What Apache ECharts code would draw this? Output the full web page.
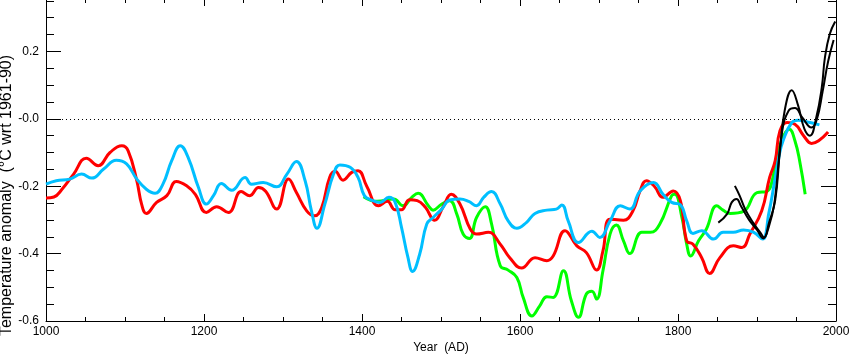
<!DOCTYPE html>
<html>
<head>
<meta charset="utf-8">
<script src="https://cdn.jsdelivr.net/npm/echarts@6/dist/echarts.min.js"></script>
<style>
  html, body { margin: 0; padding: 0; background: #fff; }
  #chart { width: 850px; height: 354px; }
</style>
</head>
<body>
<div id="chart"></div>
<script>
// [year, anomaly]
const red = [
  [1000, -0.235], [1010, -0.232], [1020, -0.21], [1035, -0.164], [1051, -0.117],
  [1066, -0.139], [1081, -0.10], [1096, -0.080], [1104, -0.095], [1115, -0.184],
  [1121, -0.253], [1127, -0.281], [1140, -0.248], [1153, -0.228], [1165, -0.186],
  [1178, -0.199], [1189, -0.224], [1203, -0.278], [1216, -0.261], [1231, -0.278],
  [1247, -0.216], [1258, -0.228], [1269, -0.204], [1278, -0.215], [1292, -0.268],
  [1307, -0.179], [1317, -0.219], [1330, -0.273], [1340, -0.288], [1349, -0.263],
  [1359, -0.174], [1366, -0.156], [1376, -0.182], [1387, -0.159], [1395, -0.154],
  [1406, -0.20], [1421, -0.258], [1432, -0.245], [1442, -0.27], [1450, -0.27],
  [1460, -0.240], [1470, -0.243], [1480, -0.262], [1492, -0.301], [1503, -0.26],
  [1513, -0.224], [1524, -0.253], [1537, -0.327], [1545, -0.342], [1560, -0.337],
  [1575, -0.372], [1587, -0.412], [1602, -0.443], [1619, -0.412], [1634, -0.421],
  [1642, -0.407], [1657, -0.332], [1672, -0.377], [1684, -0.397], [1697, -0.449],
  [1705, -0.392], [1714, -0.298], [1731, -0.301], [1743, -0.273], [1752, -0.214],
  [1760, -0.184], [1770, -0.20], [1781, -0.233], [1794, -0.214], [1803, -0.243],
  [1811, -0.362], [1819, -0.372], [1830, -0.412], [1840, -0.459], [1853, -0.412],
  [1870, -0.377], [1881, -0.382], [1891, -0.342], [1906, -0.273], [1916, -0.174],
  [1923, -0.125], [1929, -0.036], [1938, -0.011], [1948, -0.016], [1959, -0.050],
  [1969, -0.073], [1978, -0.065], [1990, -0.039]
];

const cyan = [
  [1000, -0.194], [1013, -0.184], [1030, -0.179], [1045, -0.164], [1058, -0.176],
  [1073, -0.149], [1089, -0.123], [1102, -0.134], [1115, -0.179], [1127, -0.209],
  [1138, -0.221], [1148, -0.194], [1159, -0.125], [1170, -0.080], [1180, -0.115],
  [1193, -0.204], [1203, -0.253], [1212, -0.228], [1222, -0.192], [1235, -0.212],
  [1252, -0.174], [1260, -0.194], [1275, -0.189], [1292, -0.202], [1305, -0.164],
  [1317, -0.127], [1328, -0.184], [1336, -0.273], [1343, -0.325], [1353, -0.253],
  [1364, -0.164], [1372, -0.137], [1385, -0.144], [1395, -0.174], [1403, -0.228],
  [1412, -0.241], [1423, -0.248], [1434, -0.233], [1442, -0.248], [1450, -0.322],
  [1458, -0.41], [1464, -0.453], [1473, -0.402], [1482, -0.312], [1490, -0.293],
  [1501, -0.268], [1511, -0.241], [1524, -0.238], [1535, -0.245], [1545, -0.258],
  [1554, -0.233], [1564, -0.216], [1575, -0.253], [1585, -0.303], [1596, -0.325],
  [1608, -0.308], [1619, -0.281], [1634, -0.271], [1646, -0.268], [1653, -0.256],
  [1661, -0.303], [1674, -0.367], [1691, -0.334], [1701, -0.352], [1714, -0.303],
  [1727, -0.258], [1739, -0.268], [1752, -0.214], [1769, -0.189], [1781, -0.224],
  [1792, -0.248], [1803, -0.255], [1811, -0.303], [1819, -0.340], [1830, -0.332],
  [1845, -0.357], [1857, -0.337], [1870, -0.337], [1883, -0.330], [1896, -0.337],
  [1907, -0.357], [1915, -0.28], [1922, -0.19], [1928, -0.11], [1933, -0.065],
  [1944, -0.011], [1952, -0.004], [1967, -0.011], [1979, -0.018]
];

const green = [
  [1402, -0.231], [1419, -0.245], [1440, -0.238], [1452, -0.258], [1463, -0.233],
  [1471, -0.221], [1484, -0.258], [1490, -0.271], [1501, -0.253], [1511, -0.243],
  [1520, -0.283], [1528, -0.342], [1536, -0.355], [1545, -0.293], [1556, -0.261],
  [1564, -0.312], [1575, -0.436], [1585, -0.449], [1596, -0.471], [1604, -0.530],
  [1615, -0.585], [1625, -0.555], [1634, -0.528], [1642, -0.530], [1655, -0.451],
  [1665, -0.540], [1674, -0.589], [1684, -0.520], [1691, -0.512], [1697, -0.535],
  [1705, -0.451], [1714, -0.342], [1722, -0.315], [1731, -0.362], [1739, -0.400],
  [1754, -0.337], [1765, -0.337], [1777, -0.312], [1792, -0.228], [1796, -0.224],
  [1805, -0.293], [1811, -0.372], [1816, -0.407], [1826, -0.362], [1836, -0.327],
  [1849, -0.258], [1857, -0.271], [1866, -0.281], [1883, -0.275], [1900, -0.219],
  [1912, -0.216], [1923, -0.144], [1931, -0.065], [1941, -0.031], [1948, -0.065],
  [1954, -0.125], [1961, -0.224]
];

const blackA = [
  [1872, -0.199], [1878, -0.228], [1885, -0.268], [1895, -0.308], [1904, -0.337],
  [1909, -0.352], [1915, -0.31], [1923, -0.243], [1929, -0.095], [1935, 0.024],
  [1944, 0.085], [1952, 0.04], [1960, -0.03], [1967, -0.050], [1975, 0.004],
  [1982, 0.093], [1986, 0.182], [1992, 0.251], [1999, 0.289]
];

const blackB = [
  [1851, -0.308], [1862, -0.283], [1868, -0.248], [1874, -0.238], [1880, -0.26],
  [1890, -0.30], [1900, -0.33], [1908, -0.355], [1915, -0.32], [1922, -0.25],
  [1932, -0.036], [1940, 0.024], [1948, 0.032], [1957, 0.005], [1969, -0.026],
  [1976, 0.0], [1983, 0.08], [1990, 0.17], [1997, 0.234]
];

const font = 'Liberation Sans, Arial, Helvetica, sans-serif';

function line(name, data, color, width) {
  return {
    name: name,
    type: 'line',
    data: data,
    showSymbol: false,
    smooth: 0.45,
    lineStyle: { color: color, width: width },
    silent: true
  };
}

const chart = echarts.init(document.getElementById('chart'));

const xCommon = {
  type: 'value',
  min: 1000,
  max: 2000,
  interval: 200,
  splitLine: { show: false },
  axisLine: { onZero: false, lineStyle: { color: '#000', width: 1 } }
};

const yCommon = {
  type: 'value',
  min: -0.6,
  max: 0.4,
  interval: 0.2,
  splitLine: { show: false },
  axisLine: { onZero: false, lineStyle: { color: '#000', width: 1 } },
  axisTick: { inside: true, length: 15, lineStyle: { color: '#000' } },
  minorTick: { show: true, splitNumber: 4, length: 8, lineStyle: { color: '#000' } }
};

const zeroLine = line('zero', [], '#000', 1);
zeroLine.markLine = {
  silent: true,
  symbol: 'none',
  label: { show: false },
  lineStyle: { color: '#000', width: 1, type: [1, 3] },
  data: [{ yAxis: 0 }]
};

chart.setOption({
  animation: false,
  backgroundColor: '#fff',
  grid: {
    left: 46, right: 14, top: -16, bottom: 33,
    containLabel: false,
    outerBoundsMode: 'none'
  },
  xAxis: [
    Object.assign({}, xCommon, {
      position: 'bottom',
      name: 'Year  (AD)',
      nameLocation: 'middle',
      nameGap: 21,
      nameMoveOverlap: false,
      nameTextStyle: { color: '#000', fontSize: 12, fontFamily: font },
      axisTick: { inside: true, length: 7, lineStyle: { color: '#000' } },
      minorTick: { show: true, splitNumber: 4, length: 4, lineStyle: { color: '#000' } },
      axisLabel: {
        color: '#000', fontSize: 12, fontFamily: font, margin: 5,
        formatter: v => String(v)
      }
    }),
    Object.assign({}, xCommon, {
      position: 'top',
      axisTick: { inside: true, length: 22, lineStyle: { color: '#000' } },
      minorTick: { show: true, splitNumber: 4, length: 19, lineStyle: { color: '#000' } },
      axisLabel: { show: false }
    })
  ],
  yAxis: [
    Object.assign({}, yCommon, {
      position: 'left',
      name: 'Temperature anomaly  (°C wrt 1961-90)',
      nameLocation: 'middle',
      nameRotate: 90,
      nameGap: 31,
      nameMoveOverlap: false,
      nameTextStyle: {
        color: '#000', fontSize: 16, fontFamily: font,
        padding: [0, 86, 0, 0]
      },
      axisLabel: {
        color: '#000',
        fontSize: 12,
        fontFamily: font,
        margin: 7,
        showMaxLabel: false,
        formatter: v => (Math.abs(v) < 1e-9 ? '-0.0' : v.toFixed(1))
      }
    }),
    Object.assign({}, yCommon, {
      position: 'right',
      axisLabel: { show: false }
    })
  ],
  series: [
    zeroLine,
    line('green', green, '#00ff00', 3),
    line('red', red, '#ff0000', 3),
    line('cyan', cyan, '#00bfff', 3),
    line('blackB', blackB, '#000000', 2),
    line('blackA', blackA, '#000000', 2)
  ]
});
</script>
</body>
</html>
